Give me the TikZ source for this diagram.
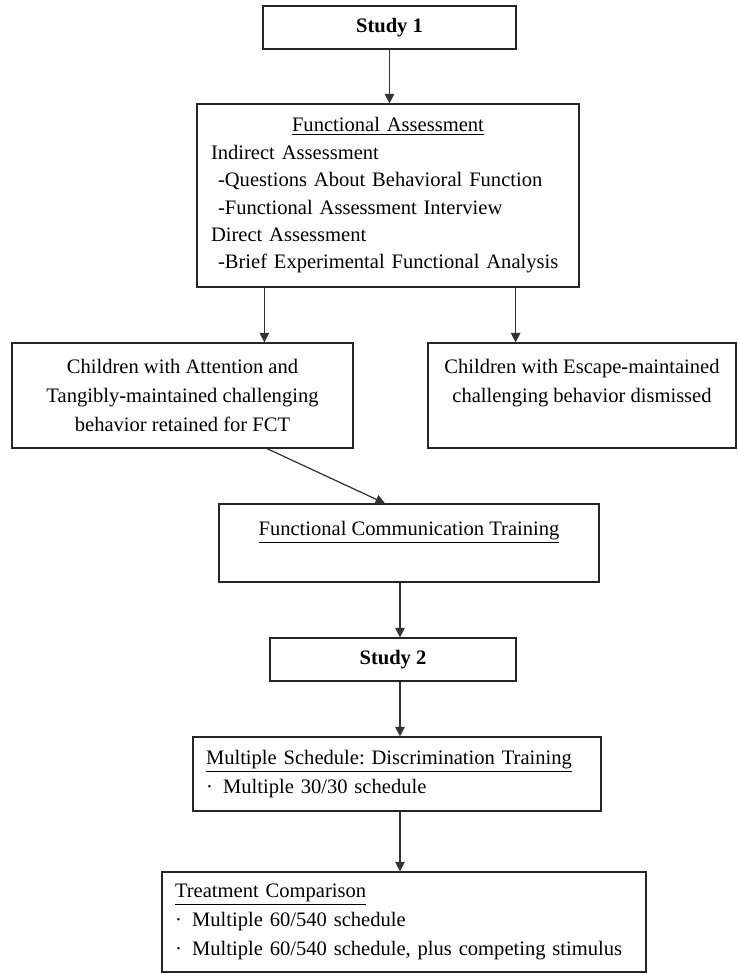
\documentclass[tikz,border=0pt]{standalone}
\usepackage{fontspec}
\setmainfont{Liberation Serif}
\usetikzlibrary{arrows.meta}
\frenchspacing

\begin{document}
\begin{tikzpicture}[
    font=\fontsize{11.7}{16.5}\selectfont,
    box/.style={
        rectangle,
        draw=black!85,
        line width=0.7pt,
        align=center,
        inner sep=3pt
    },
    listbox/.style={
        box,
        align=left,
        inner xsep=0.26cm
    },
    arr/.style={-{Triangle[length=1.9mm, width=1.9mm]}, line width=0.7pt, draw=black!80}
]

\useasboundingbox (0, 0) rectangle (14.74, -19.48);

\node[box, minimum width=5.06cm, minimum height=0.86cm] (study1) at (7.79, -0.55) {\textbf{Study 1}};

\node[listbox, inner xsep=0.28cm, text width=7.08cm, minimum height=3.66cm,
      font=\fontsize{11.7}{15.6}\selectfont] (assess) at (7.76, -3.91)
    {\makebox[7.08cm][c]{\underline{Functional Assessment}}\\
     Indirect Assessment\\
     \hspace*{4pt}-Questions About Behavioral Function\\
     \hspace*{4pt}-Functional Assessment Interview\\
     Direct Assessment\\
     \hspace*{4pt}-Brief Experimental Functional Analysis};

\node[box, minimum width=6.82cm, minimum height=2.1cm] (attn)   at (3.65, -7.91)
    {Children with Attention and \\ Tangibly-maintained challenging \\ behavior retained for FCT};
\node[box, minimum width=6.16cm, minimum height=2.1cm] (escape) at (11.64, -7.91)
    {Children with Escape-maintained \\ challenging behavior dismissed \\ \mbox{}};

\node[box, minimum width=7.6cm, minimum height=1.56cm] (fct)    at (8.18, -10.86)
    {\underline{Functional Communication Training} \\ \mbox{}};
\node[box, minimum width=4.92cm, minimum height=0.86cm] (study2) at (7.86, -13.19) {\textbf{Study 2}};

\node[listbox, text width=7.64cm, minimum height=1.48cm] (ms) at (7.94, -15.48)
    {\underline{Multiple Schedule: Discrimination Training}\\
     ·\enspace Multiple 30/30 schedule};
\node[listbox, text width=9.16cm, minimum height=2.0cm] (tc) at (8.08, -18.44)
    {\underline{Treatment Comparison}\\
     ·\enspace Multiple 60/540 schedule\\
     ·\enspace Multiple 60/540 schedule, plus competing stimulus};

\coordinate (assess-l) at ([xshift=1.36cm]assess.south west);
\coordinate (assess-r) at ([xshift=-1.28cm]assess.south east);
\coordinate (spine) at (8.0, -11.66);

\draw[arr] (study1.south) -- (study1.south |- assess.north);
\draw[arr] (assess-l) -- (assess-l |- attn.north);
\draw[arr] (assess-r) -- (assess-r |- escape.north);
\draw[arr] ([xshift=1.69cm]attn.south) -- ([xshift=-0.48cm]fct.north);
\draw[arr] (spine |- fct.south) -- (spine |- study2.north);
\draw[arr] (spine |- study2.south) -- (spine |- ms.north);
\draw[arr] (spine |- ms.south) -- (spine |- tc.north);

\end{tikzpicture}
\end{document}
